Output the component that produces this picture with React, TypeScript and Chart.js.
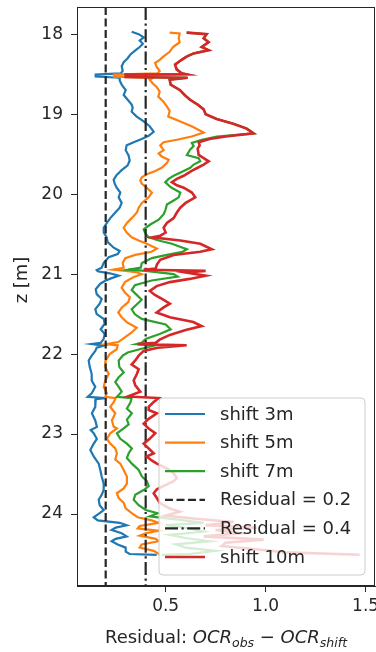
import React, { useEffect, useRef } from "react";
import { Chart, registerables } from "chart.js";

Chart.register(...registerables);

// ---------------- data (z in metres, residual values) ----------------
const shift3Z = [17.97, 18.0, 18.04, 18.08, 18.12, 18.16, 18.2, 18.25, 18.3, 18.35, 18.4, 18.46, 18.49, 18.505, 18.53, 18.545, 18.58, 18.63, 18.7, 18.76, 18.82, 18.88, 18.92, 18.97, 19.03, 19.09, 19.15, 19.22, 19.27, 19.31, 19.35, 19.39, 19.45, 19.52, 19.58, 19.64, 19.7, 19.76, 19.82, 19.87, 19.92, 19.98, 20.04, 20.11, 20.17, 20.23, 20.3, 20.36, 20.42, 20.48, 20.54, 20.6, 20.67, 20.71, 20.75, 20.79, 20.86, 20.92, 20.95, 20.965, 20.99, 21.02, 21.05, 21.08, 21.12, 21.19, 21.25, 21.31, 21.37, 21.44, 21.5, 21.56, 21.62, 21.69, 21.75, 21.81, 21.86, 21.875, 21.895, 21.92, 21.96, 22.02, 22.08, 22.16, 22.25, 22.33, 22.41, 22.49, 22.535, 22.55, 22.565, 22.6, 22.66, 22.74, 22.83, 22.91, 22.95, 22.99, 23.06, 23.12, 23.2, 23.28, 23.37, 23.45, 23.53, 23.62, 23.7, 23.76, 23.82, 23.89, 23.95, 23.99, 24.04, 24.08, 24.11, 24.14, 24.17, 24.2, 24.24, 24.28, 24.31, 24.34, 24.38, 24.42, 24.47, 24.5, 24.51];
const shift3R = [0.33, 0.365, 0.39, 0.37, 0.386, 0.37, 0.35, 0.325, 0.31, 0.29, 0.28, 0.285, 0.275, 0.15, 0.15, 0.27, 0.27, 0.28, 0.3, 0.29, 0.31, 0.33, 0.335, 0.33, 0.355, 0.39, 0.42, 0.44, 0.415, 0.38, 0.34, 0.305, 0.3, 0.315, 0.32, 0.31, 0.28, 0.255, 0.24, 0.245, 0.255, 0.273, 0.265, 0.28, 0.27, 0.248, 0.223, 0.206, 0.19, 0.19, 0.205, 0.21, 0.24, 0.27, 0.26, 0.215, 0.19, 0.18, 0.155, 0.16, 0.22, 0.265, 0.23, 0.2, 0.173, 0.15, 0.155, 0.18, 0.17, 0.148, 0.155, 0.19, 0.195, 0.175, 0.195, 0.19, 0.175, 0.13, 0.19, 0.155, 0.148, 0.13, 0.115, 0.12, 0.13, 0.13, 0.148, 0.13, 0.11, 0.2, 0.15, 0.148, 0.148, 0.131, 0.148, 0.156, 0.125, 0.14, 0.156, 0.14, 0.123, 0.14, 0.165, 0.173, 0.18, 0.19, 0.19, 0.18, 0.165, 0.17, 0.19, 0.17, 0.14, 0.16, 0.27, 0.305, 0.25, 0.23, 0.28, 0.305, 0.25, 0.23, 0.26, 0.3, 0.3, 0.32, 0.455];

const shift5Z = [17.98, 17.99, 18.05, 18.1, 18.16, 18.22, 18.28, 18.32, 18.36, 18.41, 18.46, 18.49, 18.505, 18.53, 18.545, 18.57, 18.62, 18.66, 18.72, 18.78, 18.84, 18.9, 18.96, 19.03, 19.09, 19.15, 19.23, 19.28, 19.32, 19.35, 19.39, 19.45, 19.49, 19.53, 19.57, 19.61, 19.67, 19.71, 19.75, 19.79, 19.83, 19.87, 19.92, 19.98, 20.04, 20.11, 20.17, 20.23, 20.3, 20.36, 20.42, 20.48, 20.54, 20.58, 20.62, 20.68, 20.72, 20.76, 20.8, 20.86, 20.92, 20.945, 20.96, 20.98, 21.0, 21.04, 21.1, 21.17, 21.23, 21.29, 21.35, 21.42, 21.48, 21.54, 21.6, 21.67, 21.73, 21.79, 21.85, 21.875, 21.89, 21.94, 22.0, 22.08, 22.16, 22.25, 22.33, 22.41, 22.49, 22.535, 22.55, 22.6, 22.66, 22.74, 22.83, 22.91, 22.93, 22.99, 23.06, 23.12, 23.18, 23.24, 23.32, 23.37, 23.45, 23.53, 23.62, 23.68, 23.74, 23.8, 23.86, 23.93, 23.99, 24.04, 24.08, 24.11, 24.15, 24.18, 24.21, 24.24, 24.27, 24.31, 24.34, 24.38, 24.42, 24.46, 24.49, 24.51];
const shift5R = [0.52, 0.57, 0.565, 0.57, 0.537, 0.52, 0.488, 0.47, 0.447, 0.455, 0.47, 0.46, 0.241, 0.241, 0.437, 0.42, 0.437, 0.455, 0.47, 0.463, 0.488, 0.505, 0.52, 0.513, 0.57, 0.63, 0.69, 0.63, 0.556, 0.49, 0.473, 0.49, 0.465, 0.48, 0.515, 0.506, 0.48, 0.448, 0.406, 0.381, 0.373, 0.381, 0.406, 0.431, 0.415, 0.381, 0.365, 0.356, 0.33, 0.306, 0.29, 0.305, 0.33, 0.365, 0.406, 0.456, 0.43, 0.348, 0.298, 0.285, 0.29, 0.238, 0.3, 0.36, 0.38, 0.338, 0.296, 0.28, 0.296, 0.321, 0.313, 0.28, 0.263, 0.28, 0.305, 0.355, 0.33, 0.296, 0.263, 0.205, 0.26, 0.255, 0.22, 0.2, 0.198, 0.215, 0.198, 0.19, 0.206, 0.198, 0.25, 0.24, 0.223, 0.248, 0.231, 0.24, 0.256, 0.223, 0.206, 0.223, 0.248, 0.256, 0.248, 0.273, 0.29, 0.306, 0.306, 0.29, 0.256, 0.265, 0.29, 0.3, 0.33, 0.36, 0.43, 0.465, 0.37, 0.36, 0.465, 0.4, 0.37, 0.45, 0.465, 0.38, 0.37, 0.44, 0.46, 0.47];

const shift7Z = [17.98, 18.0, 18.05, 18.1, 18.16, 18.2, 18.24, 18.28, 18.32, 18.38, 18.44, 18.49, 18.5, 18.505, 18.535, 18.545, 18.57, 18.63, 18.7, 18.76, 18.82, 18.88, 18.94, 19.0, 19.06, 19.12, 19.18, 19.24, 19.28, 19.32, 19.36, 19.4, 19.44, 19.51, 19.55, 19.59, 19.63, 19.67, 19.71, 19.77, 19.81, 19.85, 19.89, 19.92, 19.98, 20.04, 20.08, 20.13, 20.19, 20.25, 20.32, 20.38, 20.44, 20.5, 20.54, 20.58, 20.62, 20.69, 20.72, 20.76, 20.8, 20.86, 20.92, 20.945, 20.96, 21.0, 21.03, 21.08, 21.14, 21.2, 21.26, 21.32, 21.38, 21.44, 21.5, 21.56, 21.63, 21.69, 21.75, 21.81, 21.86, 21.875, 21.89, 21.94, 21.98, 22.02, 22.08, 22.16, 22.23, 22.29, 22.35, 22.41, 22.47, 22.535, 22.55, 22.61, 22.68, 22.74, 22.82, 22.88, 22.93, 22.99, 23.06, 23.12, 23.18, 23.24, 23.3, 23.37, 23.45, 23.53, 23.59, 23.65, 23.7, 23.76, 23.82, 23.89, 23.95, 23.99, 24.03, 24.07, 24.11, 24.14, 24.18, 24.22, 24.26, 24.3, 24.34, 24.38, 24.42, 24.46, 24.5, 24.51];
const shift7R = [0.605, 0.705, 0.69, 0.715, 0.68, 0.715, 0.64, 0.605, 0.58, 0.547, 0.555, 0.58, 0.6, 0.3, 0.3, 0.61, 0.52, 0.525, 0.572, 0.595, 0.622, 0.66, 0.69, 0.7, 0.755, 0.838, 0.905, 0.94, 0.756, 0.681, 0.631, 0.64, 0.623, 0.606, 0.665, 0.673, 0.64, 0.623, 0.59, 0.54, 0.515, 0.498, 0.515, 0.53, 0.573, 0.565, 0.54, 0.506, 0.5, 0.49, 0.465, 0.423, 0.39, 0.4, 0.415, 0.465, 0.531, 0.606, 0.585, 0.506, 0.431, 0.381, 0.375, 0.313, 0.4, 0.54, 0.56, 0.43, 0.346, 0.33, 0.355, 0.38, 0.355, 0.33, 0.345, 0.38, 0.5, 0.525, 0.47, 0.4, 0.38, 0.355, 0.447, 0.37, 0.31, 0.285, 0.265, 0.268, 0.29, 0.265, 0.248, 0.265, 0.28, 0.256, 0.33, 0.323, 0.306, 0.331, 0.306, 0.315, 0.29, 0.256, 0.273, 0.306, 0.331, 0.315, 0.306, 0.331, 0.365, 0.381, 0.406, 0.415, 0.39, 0.348, 0.34, 0.365, 0.4, 0.46, 0.42, 0.56, 0.69, 0.5, 0.62, 0.69, 0.52, 0.6, 0.72, 0.55, 0.6, 0.75, 0.62, 0.48];

const shift10Z = [17.98, 18.0, 18.05, 18.1, 18.16, 18.2, 18.24, 18.28, 18.32, 18.38, 18.44, 18.49, 18.5, 18.505, 18.535, 18.545, 18.57, 18.63, 18.7, 18.76, 18.82, 18.88, 18.94, 19.0, 19.06, 19.12, 19.18, 19.24, 19.28, 19.31, 19.35, 19.39, 19.43, 19.51, 19.55, 19.59, 19.63, 19.67, 19.71, 19.77, 19.81, 19.85, 19.89, 19.92, 19.98, 20.04, 20.11, 20.17, 20.23, 20.3, 20.36, 20.42, 20.48, 20.52, 20.54, 20.58, 20.62, 20.69, 20.72, 20.76, 20.82, 20.88, 20.93, 20.945, 20.96, 20.98, 21.02, 21.06, 21.1, 21.15, 21.21, 21.26, 21.32, 21.37, 21.42, 21.48, 21.54, 21.6, 21.65, 21.7, 21.76, 21.82, 21.86, 21.875, 21.89, 21.92, 21.96, 22.02, 22.08, 22.13, 22.19, 22.25, 22.33, 22.39, 22.47, 22.53, 22.55, 22.6, 22.66, 22.7, 22.74, 22.81, 22.87, 22.93, 22.99, 23.06, 23.12, 23.18, 23.24, 23.28, 23.33, 23.37, 23.43, 23.49, 23.55, 23.59, 23.63, 23.69, 23.74, 23.8, 23.86, 23.93, 23.97, 24.02, 24.06, 24.1, 24.14, 24.17, 24.2, 24.24, 24.28, 24.32, 24.36, 24.4, 24.44, 24.48, 24.51];
const shift10R = [0.605, 0.705, 0.69, 0.715, 0.68, 0.715, 0.64, 0.605, 0.58, 0.547, 0.555, 0.58, 0.6, 0.3, 0.3, 0.61, 0.52, 0.525, 0.572, 0.595, 0.622, 0.66, 0.69, 0.7, 0.755, 0.838, 0.905, 0.94, 0.8, 0.72, 0.665, 0.67, 0.66, 0.665, 0.69, 0.715, 0.69, 0.66, 0.63, 0.59, 0.556, 0.531, 0.556, 0.59, 0.631, 0.648, 0.6, 0.573, 0.556, 0.54, 0.506, 0.49, 0.5, 0.473, 0.431, 0.573, 0.673, 0.731, 0.673, 0.54, 0.473, 0.456, 0.45, 0.39, 0.7, 0.6, 0.7, 0.62, 0.521, 0.455, 0.421, 0.446, 0.488, 0.521, 0.488, 0.455, 0.521, 0.638, 0.68, 0.6, 0.521, 0.47, 0.45, 0.36, 0.605, 0.46, 0.39, 0.365, 0.348, 0.33, 0.365, 0.356, 0.34, 0.348, 0.373, 0.31, 0.465, 0.44, 0.415, 0.415, 0.456, 0.415, 0.39, 0.415, 0.448, 0.42, 0.39, 0.415, 0.44, 0.405, 0.43, 0.456, 0.506, 0.54, 0.556, 0.54, 0.506, 0.456, 0.44, 0.456, 0.47, 0.52, 0.57, 0.5, 0.65, 0.84, 0.7, 0.955, 0.75, 0.87, 0.69, 0.99, 0.8, 0.78, 0.95, 1.1, 1.47];

const residualLevels = [0.2, 0.4];
const zLimits = [17.66, 24.9];
const rLimits = [0.0565, 1.547];
const zTicks = [18, 19, 20, 21, 22, 23, 24];
const rTicks = [0.5, 1.0, 1.5];
const legendLabels = ["shift 3m", "shift 5m", "shift 7m", "Residual = 0.2", "Residual = 0.4", "shift 10m"];

// ---------------- styling ----------------
const FONT = '"DejaVu Sans"';
const TXT = "#262626";
const AX = "#262626";
const BLUE = "#1f77b4";
const ORANGE = "#ff7f0e";
const GREEN = "#2ca02c";
const RED = "#d62728";
const REFC = "#262626";
const DASH = [8, 3.5];
const DASHDOT = [13, 3.5, 2.2, 3.5];

const toPts = (z: number[], r: number[]) => z.map((zz, i) => ({ x: r[i], y: zz }));
const vline = (v: number) => [
  { x: v, y: zLimits[0] },
  { x: v, y: zLimits[1] },
];

const legendStyles = [
  { color: BLUE, dash: [] as number[], w: 2.2 },
  { color: ORANGE, dash: [] as number[], w: 2.2 },
  { color: GREEN, dash: [] as number[], w: 2.2 },
  { color: REFC, dash: DASH, w: 2.2 },
  { color: REFC, dash: DASHDOT, w: 2.2 },
  { color: RED, dash: [] as number[], w: 2.6 },
];

const decorPlugin = {
  id: "decor",
  afterDatasetsDraw(chart: any) {
    const ctx: CanvasRenderingContext2D = chart.ctx;
    // legend box (semi-transparent, drawn over the lines)
    const bx = 159, by = 398, bw = 206, bh = 177, rad = 4;
    ctx.save();
    ctx.beginPath();
    ctx.moveTo(bx + rad, by);
    ctx.lineTo(bx + bw - rad, by);
    ctx.arcTo(bx + bw, by, bx + bw, by + rad, rad);
    ctx.lineTo(bx + bw, by + bh - rad);
    ctx.arcTo(bx + bw, by + bh, bx + bw - rad, by + bh, rad);
    ctx.lineTo(bx + rad, by + bh);
    ctx.arcTo(bx, by + bh, bx, by + bh - rad, rad);
    ctx.lineTo(bx, by + rad);
    ctx.arcTo(bx, by, bx + rad, by, rad);
    ctx.closePath();
    ctx.fillStyle = "rgba(255,255,255,0.8)";
    ctx.fill();
    ctx.strokeStyle = "#cccccc";
    ctx.lineWidth = 1;
    ctx.stroke();
    ctx.font = `18px ${FONT}`;
    ctx.textBaseline = "middle";
    ctx.textAlign = "left";
    legendLabels.forEach((lab, i) => {
      const y = 414 + i * 28.6;
      const st = legendStyles[i];
      ctx.beginPath();
      ctx.setLineDash(st.dash);
      ctx.strokeStyle = st.color;
      ctx.lineWidth = st.w;
      ctx.moveTo(165, y);
      ctx.lineTo(205, y);
      ctx.stroke();
      ctx.setLineDash([]);
      ctx.fillStyle = TXT;
      ctx.fillText(lab, 220, y + 1);
    });
    ctx.restore();
  },
  afterDraw(chart: any) {
    const ctx: CanvasRenderingContext2D = chart.ctx;
    const a = chart.chartArea;
    ctx.save();
    ctx.strokeStyle = AX;
    ctx.lineWidth = 1;
    ctx.strokeRect(Math.round(a.left) + 0.5, Math.round(a.top) + 0.5, Math.round(a.right - a.left) - 1, Math.round(a.bottom - a.top) - 1);

    // y title
    ctx.fillStyle = TXT;
    ctx.font = `18px ${FONT}`;
    ctx.textAlign = "center";
    ctx.textBaseline = "middle";
    ctx.translate(22, 280);
    ctx.rotate(-Math.PI / 2);
    ctx.fillText("z [m]", 0, 0);
    ctx.setTransform(1, 0, 0, 1, 0, 0);

    // x title with math-style subscripts
    const big = 18, small = 12.5;
    const parts = [
      { t: "Residual: ", f: `${big}px ${FONT}`, dy: 0 },
      { t: "OCR", f: `italic ${big}px ${FONT}`, dy: 0 },
      { t: "obs", f: `italic ${small}px ${FONT}`, dy: 4 },
      { t: " \u2212 ", f: `${big}px ${FONT}`, dy: 0 },
      { t: "OCR", f: `italic ${big}px ${FONT}`, dy: 0 },
      { t: "shift", f: `italic ${small}px ${FONT}`, dy: 4 },
    ];
    let total = 0;
    const widths = parts.map((p) => {
      ctx.font = p.f;
      const w = ctx.measureText(p.t).width;
      total += w;
      return w;
    });
    let x = 226 - total / 2;
    ctx.textAlign = "left";
    ctx.textBaseline = "alphabetic";
    parts.forEach((p, i) => {
      ctx.font = p.f;
      ctx.fillText(p.t, x, 643 + p.dy);
      x += widths[i];
    });
    ctx.restore();
  },
};

export default function App() {
  const ref = useRef<HTMLCanvasElement | null>(null);

  useEffect(() => {
    if (!ref.current) return;
    const line = (label: string, data: any[], color: string, width: number, order: number, dash: number[] = []) => ({
      label,
      data,
      borderColor: color,
      backgroundColor: color,
      borderWidth: width,
      borderDash: dash,
      pointRadius: 0,
      pointHoverRadius: 0,
      showLine: true,
      fill: false,
      tension: 0,
      order,
    });
    const chart = new Chart(ref.current, {
      type: "scatter",
      data: {
        datasets: [
          line(legendLabels[0], toPts(shift3Z, shift3R), BLUE, 2.2, 5),
          line(legendLabels[1], toPts(shift5Z, shift5R), ORANGE, 2.2, 4),
          line(legendLabels[2], toPts(shift7Z, shift7R), GREEN, 2.2, 3),
          line(legendLabels[3], vline(residualLevels[0]), REFC, 2.2, 2, DASH),
          line(legendLabels[4], vline(residualLevels[1]), REFC, 2.2, 1, DASHDOT),
          line(legendLabels[5], toPts(shift10Z, shift10R), RED, 2.6, 0),
        ] as any,
      },
      options: {
        responsive: false,
        animation: false,
        events: [],
        layout: { padding: { top: 7, right: 1, left: 0, bottom: 0 } },
        plugins: {
          legend: { display: false },
          tooltip: { enabled: false },
          title: { display: false },
        },
        scales: {
          x: {
            type: "linear",
            position: "bottom",
            min: rLimits[0],
            max: rLimits[1],
            afterBuildTicks: (s: any) => {
              s.ticks = rTicks.map((v) => ({ value: v }));
            },
            afterFit: (s: any) => {
              s.height = 66;
              s.paddingLeft = 0;
              s.paddingRight = 0;
            },
            ticks: {
              callback: (v: any) => Number(v).toFixed(1),
              font: { size: 17, family: FONT },
              color: TXT,
              padding: 4,
              maxRotation: 0,
              autoSkip: false,
            },
            grid: { drawOnChartArea: false, drawTicks: true, tickLength: 6, color: AX, lineWidth: 1 },
            border: { display: true, color: AX, width: 1 },
          },
          y: {
            type: "linear",
            reverse: true,
            min: zLimits[0],
            max: zLimits[1],
            afterBuildTicks: (s: any) => {
              s.ticks = zTicks.map((v) => ({ value: v }));
            },
            afterFit: (s: any) => {
              s.width = 77;
              s.paddingTop = 0;
              s.paddingBottom = 0;
            },
            ticks: {
              callback: (v: any) => String(v),
              font: { size: 17, family: FONT },
              color: TXT,
              padding: 8,
              autoSkip: false,
            },
            grid: { drawOnChartArea: false, drawTicks: true, tickLength: 6, color: AX, lineWidth: 1 },
            border: { display: true, color: AX, width: 1 },
          },
        },
      } as any,
      plugins: [decorPlugin],
    });
    return () => chart.destroy();
  }, []);

  return (
    <div style={{ position: "absolute", left: 0, top: 0, width: 376, height: 652, background: "#fff" }}>
      <canvas ref={ref} width={376} height={652} style={{ display: "block", width: 376, height: 652 }} />
    </div>
  );
}
